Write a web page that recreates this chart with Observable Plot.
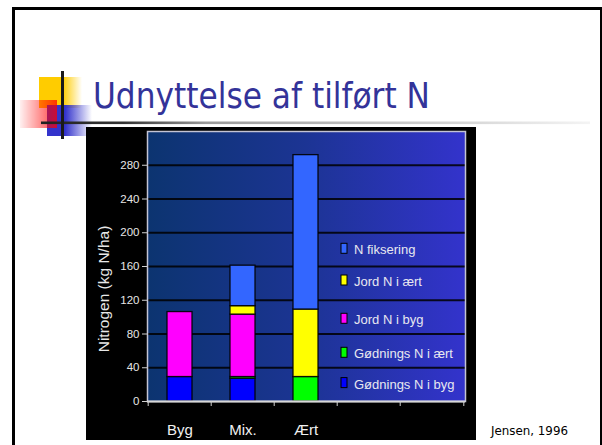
<!DOCTYPE html>
<html><head><meta charset="utf-8">
<script src="https://cdn.jsdelivr.net/npm/d3@7"></script>
<script src="https://cdn.jsdelivr.net/npm/@observablehq/plot@0.6"></script>
<style>
html,body{margin:0;padding:0;background:#fff;overflow:hidden;}
#slide{position:relative;width:602px;height:445px;overflow:hidden;background:#fff;}
#slide > svg{position:absolute;}
</style></head><body><div id="slide"></div>
<script>
// ---- data ----
const categories = ["Byg", "Mix.", "Ært"];
const slotCount = 5;
const seriesNames = ["Gødnings N i byg", "Gødnings N i ært", "Jord N i byg", "Jord N i ært", "N fiksering"];
const seriesColors = ["#0000ff", "#00ff00", "#ff00ff", "#ffff00", "#3366ff"];
const goedByg  = [29, 27, 0];
const goedAert = [0, 2, 29];
const jordByg  = [77, 74, 0];
const jordAert = [0, 10, 80];
const nFiks    = [0, 48, 183];
const yTicks = [0, 40, 80, 120, 160, 200, 240, 280];
const yMax = 320;
const titleText = "Udnyttelse af tilført N";
const yLabel = "Nitrogen (kg N/ha)";
const sourceText = "Jensen, 1996";

// ---- build table ----
const seriesValues = [goedByg, goedAert, jordByg, jordAert, nFiks];
const rows = [];
seriesNames.forEach((s, si) => categories.forEach((c, ci) => {
  if (seriesValues[si][ci] > 0) rows.push({cat: c, series: s, value: seriesValues[si][ci]});
}));
const xDomain = d3.range(slotCount).map(i => i < categories.length ? categories[i] : "empty" + i);

const slide = document.getElementById("slide");
const NS = "http://www.w3.org/2000/svg";

// ---- background slide ----
const bg = d3.select(slide).append("svg").attr("width", 602).attr("height", 445).style("left", "0px").style("top", "0px");
const defs = bg.append("defs");
function grad(id, stops) {
  const g = defs.append("linearGradient").attr("id", id).attr("x1", 0).attr("x2", 1).attr("y1", 0).attr("y2", 0);
  stops.forEach(([o, c, a]) => g.append("stop").attr("offset", o).attr("stop-color", c).attr("stop-opacity", a));
}
grad("yellowG", [[0, "#ffcc00", 1], [0.55, "#ffcc00", 1], [1, "#ffcc00", 0]]);
grad("blueG", [[0, "#3333cc", 1], [0.4, "#3333cc", 1], [1, "#3333cc", 0]]);
grad("redG", [[0, "#ff0000", 0.06], [1, "#ff0000", 0.75]]);
grad("lineG", [[0, "#222", 1], [0.15, "#333", 1], [0.3, "#999", 1], [1, "#f4f4f4", 1]]);

// borders
bg.append("rect").attr("x", 12).attr("y", 7).attr("width", 590).attr("height", 3).attr("fill", "#000");
bg.append("rect").attr("x", 12).attr("y", 7).attr("width", 3).attr("height", 440).attr("fill", "#000");
bg.append("rect").attr("x", 600).attr("y", 7).attr("width", 2).attr("height", 440).attr("fill", "#000");

// decoration
bg.append("rect").attr("x", 39).attr("y", 77).attr("width", 43).attr("height", 31).attr("fill", "url(#yellowG)");
bg.append("rect").attr("x", 47).attr("y", 105).attr("width", 45).attr("height", 31).attr("fill", "url(#blueG)");
bg.append("rect").attr("x", 20).attr("y", 100).attr("width", 37).attr("height", 28).attr("fill", "url(#redG)");
bg.append("rect").attr("x", 41).attr("y", 121.5).attr("width", 549).attr("height", 2.6).attr("fill", "url(#lineG)");
bg.append("rect").attr("x", 61).attr("y", 71).attr("width", 3).attr("height", 68).attr("fill", "#1a1a1a");

// title
bg.append("text").attr("x", 93).attr("y", 108).attr("font-family", "'DejaVu Sans', Verdana, sans-serif")
  .attr("font-size", 36).attr("fill", "#333399").attr("textLength", 337).attr("lengthAdjust", "spacingAndGlyphs").text(titleText);

// black chart box
bg.append("rect").attr("x", 86).attr("y", 127).attr("width", 390).attr("height", 313).attr("fill", "#000");

// source
bg.append("text").attr("x", 491).attr("y", 435).attr("font-family", "'DejaVu Sans', Verdana, sans-serif")
  .attr("font-size", 12).attr("fill", "#000").attr("textLength", 77).attr("lengthAdjust", "spacingAndGlyphs").text(sourceText);

// ---- chart ----
const W = 390, H = 313, ML = 61, MR = 11, MT = 4, MB = 39;
const step = (W - ML - MR) / slotCount;
const chart = Plot.plot({
  width: W, height: H, marginLeft: ML, marginRight: MR, marginTop: MT, marginBottom: MB,
  style: {background: "transparent", color: "#e6e6e6", fontFamily: "'Liberation Sans', Arial, sans-serif", overflow: "visible"},
  x: {domain: xDomain, paddingInner: 0.6, paddingOuter: 0.3, axis: null},
  y: {domain: [0, yMax], axis: null},
  color: {domain: seriesNames, range: seriesColors},
  marks: [
    Plot.frame({fill: "url(#plotBg)"}),
    Plot.ruleY(yTicks.filter(d => d > 0), {stroke: "#000", strokeWidth: 2, strokeOpacity: 0.85}),
    Plot.barY(rows, {x: "cat", y: "value", fill: "series", stroke: "#000", strokeWidth: 1.3, strokeOpacity: 0.9}),
    Plot.frame({stroke: "#c4c4d4", strokeWidth: 1.5}),
    Plot.ruleY([0], {stroke: "#d8d8d8", strokeWidth: 2}),
    Plot.axisY({ticks: yTicks, tickSize: 5, tickPadding: 3, fontSize: 11.5, label: null, stroke: "#d0d0d0"}),
    Plot.axisX({ticks: xDomain, tickSize: 5, tickFormat: () => "", dx: -step / 2, label: null, stroke: "#d0d0d0"}),
    Plot.axisX({ticks: [xDomain[slotCount - 1]], tickSize: 5, tickFormat: () => "", dx: step / 2, label: null, stroke: "#d0d0d0"}),
    Plot.axisX({ticks: categories, tickSize: 0, tickPadding: 23, fontSize: 15, label: null, fill: "#f0f0f0"})
  ]
});
d3.select(chart).insert("defs", ":first-child").html(
  '<linearGradient id="plotBg" x1="0" x2="1" y1="0" y2="0"><stop offset="0" stop-color="#0c3470"/><stop offset="0.5" stop-color="#1c3494"/><stop offset="1" stop-color="#3333cc"/></linearGradient>');
chart.style.position = "absolute";
chart.style.left = "86px";
chart.style.top = "127px";
slide.appendChild(chart);

// ---- foreground: y label + legend ----
const fg = d3.select(slide).append("svg").attr("width", 602).attr("height", 445).style("left", "0px").style("top", "0px").style("pointer-events", "none");
fg.append("text").attr("transform", "translate(109,289) rotate(-90)").attr("text-anchor", "middle")
  .attr("font-family", "'Liberation Sans', Arial, sans-serif").attr("font-size", 15.5).attr("fill", "#e8e8e8").text(yLabel);
const legendBaselines = [254.3, 286, 324.3, 358.3, 388.6];
const legendOrder = seriesNames.map((s, i) => i).reverse();
legendOrder.forEach((si, k) => {
  const b = legendBaselines[k];
  fg.append("rect").attr("x", 341).attr("y", b - 11).attr("width", 6).attr("height", 10)
    .attr("fill", seriesColors[si]).attr("stroke", "#000").attr("stroke-width", 1);
  fg.append("text").attr("x", 354).attr("y", b).attr("font-family", "'Liberation Sans', Arial, sans-serif")
    .attr("font-size", 13).attr("fill", "#e8e8f0").text(seriesNames[si]);
});
</script>
</body></html>
